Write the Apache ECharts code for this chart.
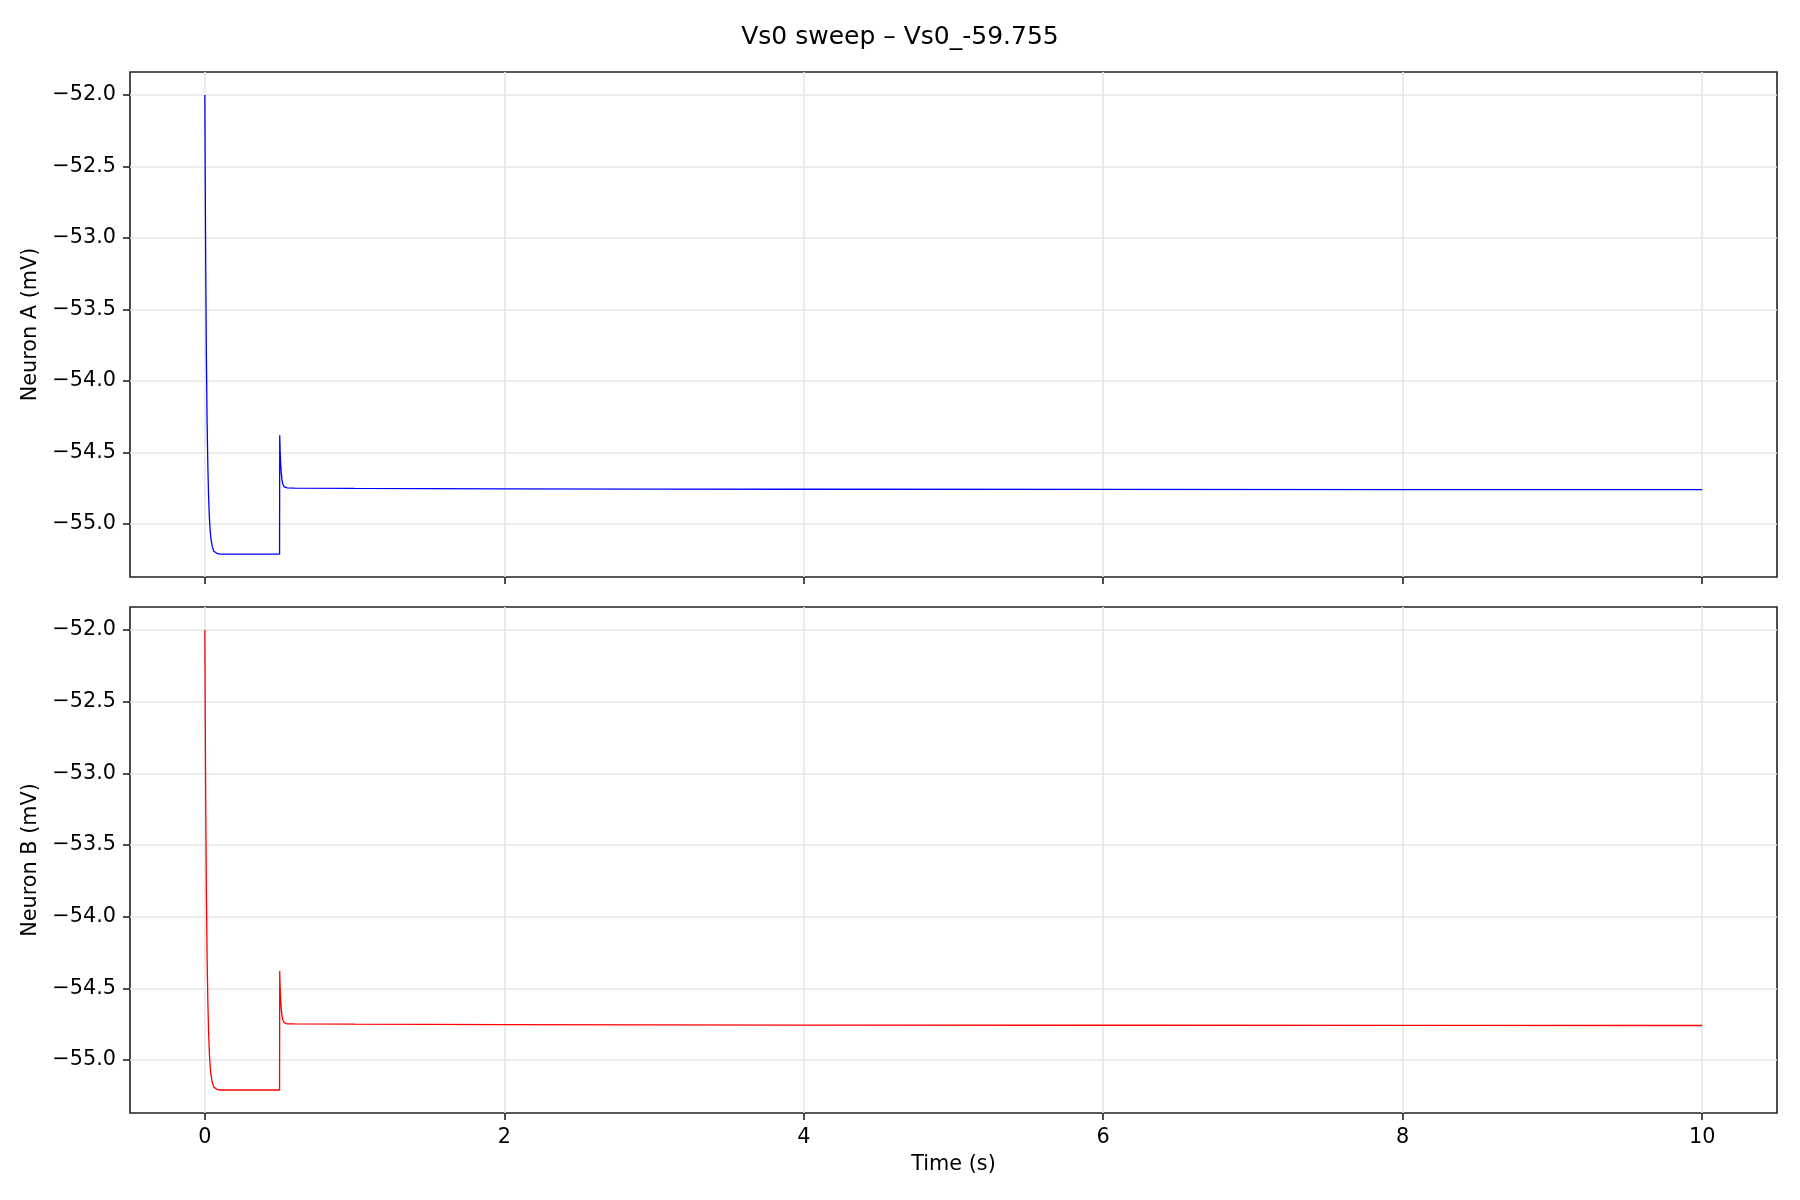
<!DOCTYPE html>
<html>
<head>
<meta charset="utf-8">
<script src="https://cdn.jsdelivr.net/npm/echarts@6/dist/echarts.min.js"></script>
<style>
html, body { margin: 0; padding: 0; background: #ffffff; }
#chart { width: 1800px; height: 1200px; }
</style>
</head>
<body>
<div id="chart"></div>
<script>
// ---- Data ----
const chartTitle = 'Vs0 sweep \u2013 Vs0_-59.755';
const timeS = [0, 0.002, 0.005, 0.01, 0.015, 0.02, 0.025, 0.03, 0.035, 0.04, 0.05, 0.06, 0.08, 0.1, 0.2, 0.3, 0.4, 0.499,
               0.5, 0.503, 0.506, 0.51, 0.515, 0.52, 0.53, 0.55, 0.6, 1.0, 2, 3, 4, 6, 8, 10];
const neuronA = [-52.0, -52.49, -53.09, -53.81, -54.29, -54.60, -54.81, -54.95, -55.04, -55.10, -55.16, -55.19, -55.205, -55.21, -55.21, -55.21, -55.21, -55.21,
                 -54.38, -54.50, -54.57, -54.64, -54.69, -54.72, -54.74, -54.748, -54.749, -54.751, -54.754, -54.756, -54.757, -54.758, -54.759, -54.76];
const neuronB = [-52.0, -52.49, -53.09, -53.81, -54.29, -54.60, -54.81, -54.95, -55.04, -55.10, -55.16, -55.19, -55.205, -55.21, -55.21, -55.21, -55.21, -55.21,
                 -54.38, -54.50, -54.57, -54.64, -54.69, -54.72, -54.74, -54.748, -54.749, -54.751, -54.754, -54.756, -54.757, -54.758, -54.759, -54.76];
const xTicks = [0, 2, 4, 6, 8, 10];
const yTicks = [-55.0, -54.5, -54.0, -53.5, -53.0, -52.5, -52.0];
const yLabelA = 'Neuron A (mV)';
const yLabelB = 'Neuron B (mV)';
const xLabel = 'Time (s)';

// ---- Build options ----
const FONT = 'DejaVu Sans';
const FS = 20.8;
const AX = '#222222';
const GRIDC = '#e7e7e7';

function pairs(t, v) { return t.map((x, i) => [x, v[i]]); }
function fmtY(v) { return v.toFixed(1).replace('-', '\u2212'); }

function xAxisCfg(gridIndex, showLabels) {
  return {
    type: 'value', gridIndex: gridIndex, min: -0.5, max: 10.5,
    axisLine: { show: false, onZero: false },
    axisTick: { show: true, inside: false, length: 7, customValues: xTicks, lineStyle: { color: AX, width: 1.6 } },
    axisLabel: { show: showLabels, customValues: xTicks, margin: 14, color: '#000', fontFamily: FONT, fontSize: FS },
    splitLine: { show: true, lineStyle: { color: GRIDC, width: 1.6 } },
    name: showLabels ? xLabel : '', nameLocation: 'middle', nameGap: 41,
    nameTextStyle: { color: '#000', fontFamily: FONT, fontSize: FS }
  };
}
function yAxisCfg(gridIndex, name) {
  return {
    type: 'value', gridIndex: gridIndex, min: -55.3705, max: -51.8395,
    axisLine: { show: false, onZero: false },
    axisTick: { show: true, inside: false, length: 7, customValues: yTicks, lineStyle: { color: AX, width: 1.6 } },
    axisLabel: { show: true, customValues: yTicks, margin: 14, color: '#000', fontFamily: FONT, fontSize: FS, formatter: fmtY },
    splitLine: { show: true, lineStyle: { color: GRIDC, width: 1.6 } },
    name: name, nameLocation: 'middle', nameGap: 89, nameRotate: 90,
    nameTextStyle: { color: '#000', fontFamily: FONT, fontSize: FS }
  };
}

const option = {
  animation: false,
  backgroundColor: '#ffffff',
  title: {
    text: chartTitle, left: 'center', top: 20,
    textStyle: { fontFamily: FONT, fontSize: 25, fontWeight: 'normal', color: '#000' }
  },
  grid: [
    { left: 130, right: 23, top: 72, height: 505, show: true, borderColor: AX, borderWidth: 1.6, backgroundColor: 'transparent' },
    { left: 130, right: 23, top: 607, height: 506, show: true, borderColor: AX, borderWidth: 1.6, backgroundColor: 'transparent' }
  ],
  xAxis: [xAxisCfg(0, false), xAxisCfg(1, true)],
  yAxis: [yAxisCfg(0, yLabelA), yAxisCfg(1, yLabelB)],
  series: [
    { type: 'line', xAxisIndex: 0, yAxisIndex: 0, data: pairs(timeS, neuronA), showSymbol: false,
      lineStyle: { color: '#0000ff', width: 1.3 }, itemStyle: { color: '#0000ff' } },
    { type: 'line', xAxisIndex: 1, yAxisIndex: 1, data: pairs(timeS, neuronB), showSymbol: false,
      lineStyle: { color: '#ff0000', width: 1.3 }, itemStyle: { color: '#ff0000' } }
  ]
};

const chart = echarts.init(document.getElementById('chart'), null, { renderer: 'canvas' });
chart.setOption(option);
</script>
</body>
</html>
